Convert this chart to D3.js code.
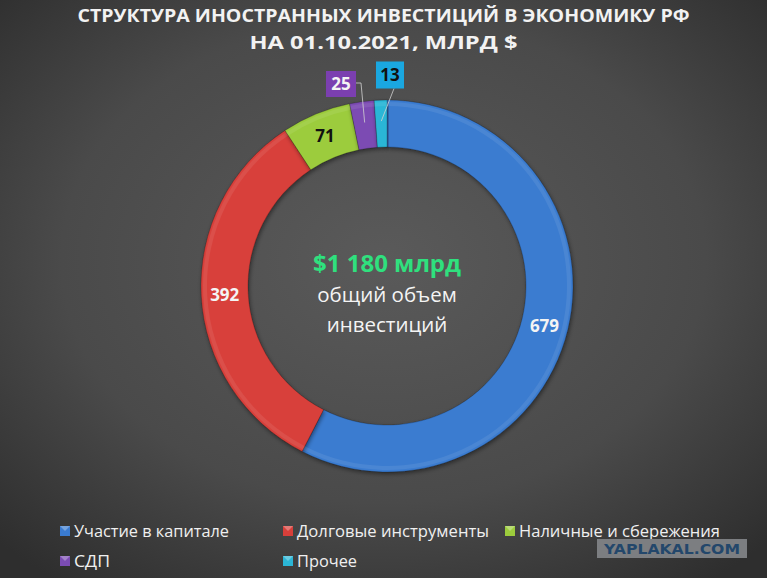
<!DOCTYPE html>
<html>
<head>
<meta charset="utf-8">
<script src="https://cdn.jsdelivr.net/npm/d3@7"></script>
<style>
  html, body { margin: 0; padding: 0; background: #3e3e3e; }
  svg { display: block; }
</style>
</head>
<body>
<svg id="chart" width="767" height="578"></svg>
<script>
// данные
const categories = ["Участие в капитале", "Долговые инструменты", "Наличные и сбережения", "СДП", "Прочее"];
const values = [679, 392, 71, 25, 13];
const colors = ["#3a7bd0", "#d83f3a", "#9ccc3c", "#7b4cb3", "#2bb6d6"];
const titleLines = ["СТРУКТУРА ИНОСТРАННЫХ ИНВЕСТИЦИЙ В ЭКОНОМИКУ РФ", "НА 01.10.2021, МЛРД $"];
const centerLines = ["$1 180 млрд", "общий объем", "инвестиций"];

const W = 767, H = 578;
const cx = 387, cy = 286, R = 186, r = 139;

const svg = d3.select("#chart");
const defs = svg.append("defs");

// фон
const bg = defs.append("radialGradient").attr("id", "bg")
    .attr("cx", "50%").attr("cy", "45%").attr("r", "70%");
bg.append("stop").attr("offset", "0%").attr("stop-color", "#5a5a5a");
bg.append("stop").attr("offset", "60%").attr("stop-color", "#4a4a4a");
bg.append("stop").attr("offset", "100%").attr("stop-color", "#2e2e2e");
svg.append("rect").attr("width", W).attr("height", H).attr("fill", "url(#bg)");

const shadow = defs.append("filter").attr("id", "shade")
    .attr("x", "-10%").attr("y", "-10%").attr("width", "120%").attr("height", "120%");
shadow.append("feDropShadow").attr("dx", 1).attr("dy", 2)
    .attr("stdDeviation", 2).attr("flood-color", "#000").attr("flood-opacity", 0.45);

// заголовок
svg.append("g").selectAll("text")
    .data(titleLines)
    .enter()
    .append("text")
    .attr("x", W / 2)
    .attr("y", (d, i) => 22 + i * 27)
    .attr("text-anchor", "middle")
    .attr("fill", "#f2f2f2")
    .attr("font-family", "Open Sans, sans-serif")
    .attr("font-weight", "bold")
    .attr("font-size", 18)
    .attr("textLength", (d, i) => i === 0 ? 612 : 268)
    .attr("lengthAdjust", "spacingAndGlyphs")
    .text(d => d);

// кольцо
const pie = d3.pie().sort(null).value(d => d)(values);
const arc = d3.arc().innerRadius(r).outerRadius(R);
const g = svg.append("g").attr("transform", "translate(" + cx + "," + cy + ")");

g.selectAll("path.slice")
    .data(pie)
    .enter()
    .append("path")
    .attr("class", "slice")
    .attr("d", arc)
    .attr("fill", (d, i) => colors[i])
    .attr("stroke", d3.rgb("#000").copy({opacity: 0.25}))
    .attr("stroke-width", 0.8)
    .attr("filter", "url(#shade)");

// лёгкий блик по внешнему краю
const hl = d3.arc().innerRadius(R - 6).outerRadius(R - 2);
g.selectAll("path.hl")
    .data(pie)
    .enter()
    .append("path")
    .attr("class", "hl")
    .attr("d", hl)
    .attr("fill", "#fff")
    .attr("opacity", 0.08);

// подписи внутри сегментов
const mid = d3.arc().innerRadius((R + r) / 2).outerRadius((R + r) / 2);
const inside = [0, 1, 2];
g.selectAll("text.val")
    .data(pie.filter((d, i) => inside.includes(i)))
    .enter()
    .append("text")
    .attr("class", "val")
    .attr("transform", d => {
        let p = mid.centroid(d);
        if (d.index === 0) p = mid.centroid({startAngle: 1.82, endAngle: 1.82});
        return "translate(" + p + ")";
    })
    .attr("text-anchor", "middle")
    .attr("dy", "0.35em")
    .attr("fill", (d, i) => i === 2 ? "#111" : "#f4f4f4")
    .attr("font-family", "Open Sans, sans-serif")
    .attr("font-weight", "bold")
    .attr("font-size", 17)
    .text(d => d.data);

// выноски для маленьких сегментов
const callouts = [
    {i: 3, box: [-46, -202], w: 30, h: 26, color: "#7b3fb0", text: "#f4f4f4"},
    {i: 4, box: [3, -211], w: 28, h: 27, color: "#1aa7e0", text: "#111"}
];
const callG = g.append("g");
const tip = d3.arc().innerRadius(165).outerRadius(165);
callouts.forEach(c => {
    const p = tip.centroid(pie[c.i]);
    let pts;
    if (c.i === 3) {
        const x0 = c.box[0] + c.w / 2;
        pts = [[x0, c.box[1] - 1], [x0 + 5, c.box[1] - 1], p];
    } else {
        pts = [[c.box[0] + 4, c.box[1] + c.h / 2], p];
    }
    callG.append("polyline")
        .attr("points", pts.map(q => q.join(",")).join(" "))
        .attr("fill", "none").attr("stroke", "#d0d0d0").attr("stroke-width", 0.8);
    callG.append("rect")
        .attr("x", c.box[0] - c.w / 2).attr("y", c.box[1] - c.h / 2)
        .attr("width", c.w).attr("height", c.h)
        .attr("fill", c.color);
    callG.append("text")
        .attr("x", c.box[0]).attr("y", c.box[1])
        .attr("dy", "0.36em")
        .attr("text-anchor", "middle")
        .attr("fill", c.text)
        .attr("font-family", "Open Sans, sans-serif")
        .attr("font-weight", "bold")
        .attr("font-size", 17)
        .text(values[c.i]);
});

// центр
g.selectAll("text.center")
    .data(centerLines)
    .enter()
    .append("text")
    .attr("class", "center")
    .attr("x", 0)
    .attr("y", (d, i) => [-14, 16, 46][i])
    .attr("text-anchor", "middle")
    .attr("fill", (d, i) => i === 0 ? "#2fe07e" : "#f4f4f4")
    .attr("font-family", "Open Sans, sans-serif")
    .attr("font-weight", (d, i) => i === 0 ? "bold" : "normal")
    .attr("font-size", (d, i) => i === 0 ? 24 : 20.5)
    .text(d => d);

// легенда
const legX = [60, 283, 505];
const legW = [155, 192, 201, 36, 60];
const legend = svg.append("g").selectAll("g")
    .data(categories)
    .enter()
    .append("g")
    .attr("transform", (d, i) => "translate(" + legX[i % 3] + "," + (531 + Math.floor(i / 3) * 30) + ")");

legend.append("rect")
    .attr("x", 0).attr("y", -5)
    .attr("width", 10).attr("height", 10)
    .attr("fill", (d, i) => colors[i]);
legend.append("path")
    .attr("d", "M0,-5 L10,-5 L5,0 Z")
    .attr("fill", "#fff").attr("opacity", 0.3);
legend.append("text")
    .attr("x", 14)
    .attr("dy", "0.35em")
    .attr("fill", "#f0f0f0")
    .attr("font-family", "Open Sans, sans-serif")
    .attr("font-size", 16.5)
    .attr("textLength", (d, i) => legW[i])
    .attr("lengthAdjust", "spacingAndGlyphs")
    .text(d => d);

// водяной знак
svg.append("rect")
    .attr("x", 597).attr("y", 539)
    .attr("width", 150).attr("height", 19)
    .attr("fill", "#7c7e81");
svg.append("text")
    .attr("x", 672).attr("y", 549)
    .attr("dy", "0.36em")
    .attr("text-anchor", "middle")
    .attr("fill", "#23476b")
    .attr("font-family", "DejaVu Sans, sans-serif")
    .attr("font-weight", "bold")
    .attr("font-size", 14)
    .attr("textLength", 136)
    .attr("lengthAdjust", "spacingAndGlyphs")
    .text("YAPLAKAL.COM");
</script>
</body>
</html>
